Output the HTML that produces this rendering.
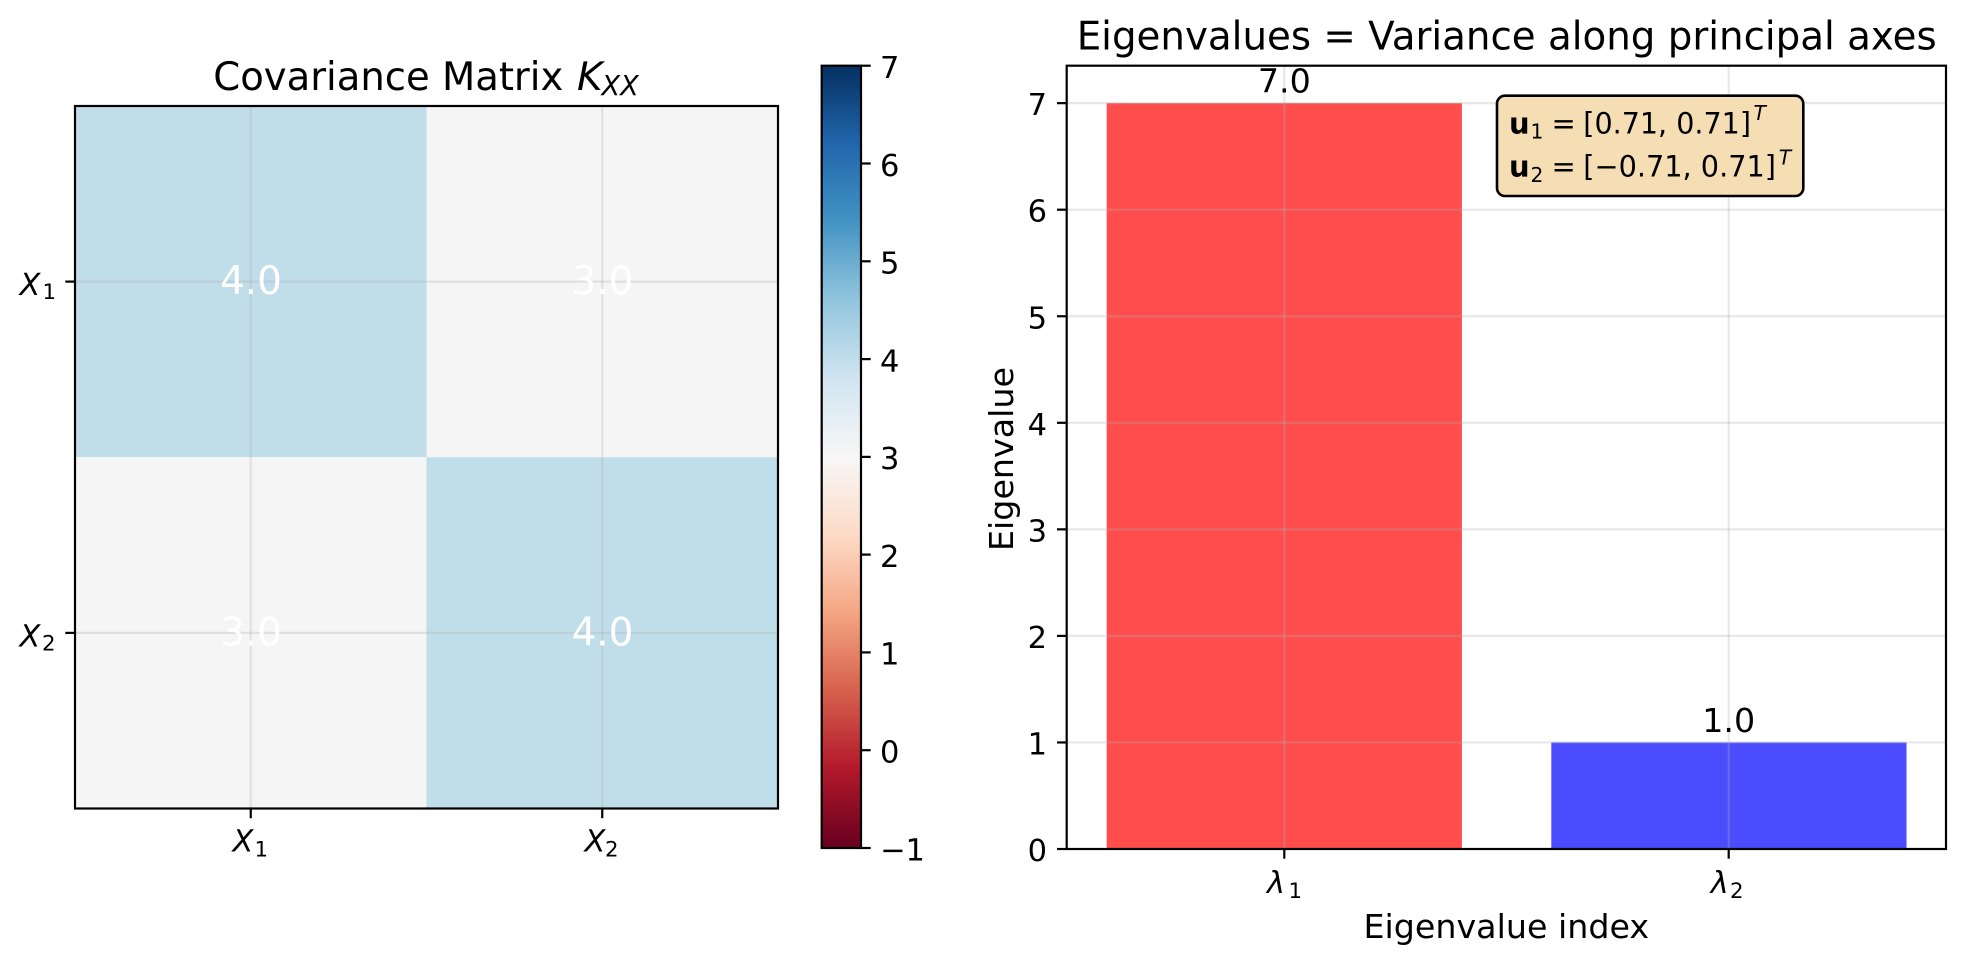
<!DOCTYPE html>
<html>
<head>
<meta charset="utf-8">
<style>
  html,body{margin:0;padding:0;background:#fff;}
  svg{display:block;}
  text{font-family:"DejaVu Sans","Liberation Sans",sans-serif;fill:#000;}
  .it{font-style:italic;}
</style>
</head>
<body>
<svg width="1966" height="965" viewBox="0 0 1966 965" xmlns="http://www.w3.org/2000/svg">
  <defs>
    <linearGradient id="rdbu" x1="0" y1="1" x2="0" y2="0">
      <stop offset="0" stop-color="#67001f"/>
      <stop offset="0.1" stop-color="#b2182b"/>
      <stop offset="0.2" stop-color="#d6604d"/>
      <stop offset="0.3" stop-color="#f4a582"/>
      <stop offset="0.4" stop-color="#fddbc7"/>
      <stop offset="0.5" stop-color="#f7f7f7"/>
      <stop offset="0.6" stop-color="#d1e5f0"/>
      <stop offset="0.7" stop-color="#92c5de"/>
      <stop offset="0.8" stop-color="#4393c3"/>
      <stop offset="0.9" stop-color="#2166ac"/>
      <stop offset="1" stop-color="#053061"/>
    </linearGradient>
  </defs>
  <rect x="0" y="0" width="1966" height="965" fill="#fff"/>

  <!-- ============ LEFT: heatmap ============ -->
  <rect x="75" y="106" width="351.5" height="351.25" fill="#c0ddea"/>
  <rect x="426.5" y="106" width="351.5" height="351.25" fill="#f5f5f5"/>
  <rect x="75" y="457.25" width="351.5" height="351.25" fill="#f5f5f5"/>
  <rect x="426.5" y="457.25" width="351.5" height="351.25" fill="#c0ddea"/>
  <!-- grid -->
  <g stroke="#b0b0b0" stroke-opacity="0.3" stroke-width="2.2">
    <line x1="250.75" y1="106" x2="250.75" y2="808.5"/>
    <line x1="602.25" y1="106" x2="602.25" y2="808.5"/>
    <line x1="75" y1="281.6" x2="778" y2="281.6"/>
    <line x1="75" y1="632.9" x2="778" y2="632.9"/>
  </g>
  <!-- cell text -->
  <g font-size="38.9" text-anchor="middle">
    <text x="251" y="294" style="fill:#fff">4.0</text>
    <text x="602.5" y="294" style="fill:#fff">3.0</text>
    <text x="251" y="645.5" style="fill:#fff">3.0</text>
    <text x="602.5" y="645.5" style="fill:#fff">4.0</text>
  </g>
  <rect x="75" y="106" width="703" height="702.5" fill="none" stroke="#000" stroke-width="2.2"/>
  <!-- ticks -->
  <g stroke="#000" stroke-width="2.2">
    <line x1="65.3" y1="281.6" x2="75" y2="281.6"/>
    <line x1="65.3" y1="632.9" x2="75" y2="632.9"/>
    <line x1="250.75" y1="808.5" x2="250.75" y2="818.2"/>
    <line x1="602.25" y1="808.5" x2="602.25" y2="818.2"/>
  </g>
  <!-- y tick labels -->
  <text class="it" x="19.5" y="295" font-size="30.5">X</text>
  <text x="42.5" y="299" font-size="21.3">1</text>
  <text class="it" x="19.5" y="646.3" font-size="30.5">X</text>
  <text x="42" y="650.3" font-size="21.3">2</text>
  <!-- x tick labels -->
  <text class="it" x="232.5" y="851.7" font-size="30.5">X</text>
  <text x="254.5" y="856.5" font-size="21.3">1</text>
  <text class="it" x="584.5" y="851.7" font-size="30.5">X</text>
  <text x="605" y="856.5" font-size="21.3">2</text>
  <!-- title -->
  <text x="213.3" y="90" font-size="38.9" textLength="350" lengthAdjust="spacingAndGlyphs">Covariance Matrix</text>
  <text class="it" x="577" y="90" font-size="38.9">K</text>
  <text class="it" x="601.5" y="95" font-size="27.2">XX</text>

  <!-- colorbar -->
  <rect x="821.7" y="65.7" width="39.3" height="782.3" fill="url(#rdbu)" stroke="#000" stroke-width="2.2"/>
  <g stroke="#000" stroke-width="2.2">
    <line x1="861" y1="65.7" x2="870.7" y2="65.7"/>
    <line x1="861" y1="163.5" x2="870.7" y2="163.5"/>
    <line x1="861" y1="261.3" x2="870.7" y2="261.3"/>
    <line x1="861" y1="359.1" x2="870.7" y2="359.1"/>
    <line x1="861" y1="456.9" x2="870.7" y2="456.9"/>
    <line x1="861" y1="554.6" x2="870.7" y2="554.6"/>
    <line x1="861" y1="652.4" x2="870.7" y2="652.4"/>
    <line x1="861" y1="750.2" x2="870.7" y2="750.2"/>
    <line x1="861" y1="848" x2="870.7" y2="848"/>
  </g>
  <g font-size="30.5">
    <text x="880" y="78">7</text>
    <text x="880" y="175.8">6</text>
    <text x="880" y="273.6">5</text>
    <text x="880" y="371.4">4</text>
    <text x="880" y="469.2">3</text>
    <text x="880" y="566.9">2</text>
    <text x="880" y="664.7">1</text>
    <text x="880" y="762.5">0</text>
    <text x="880" y="860.3">−1</text>
  </g>

  <!-- ============ RIGHT: bar chart ============ -->
  <rect x="1106.7" y="103.15" width="355.2" height="745.85" fill="#ff0000" fill-opacity="0.7"/>
  <rect x="1551.3" y="742.45" width="355.2" height="106.55" fill="#0000ff" fill-opacity="0.7"/>
  <g stroke="#b0b0b0" stroke-opacity="0.3" stroke-width="2.2">
    <line x1="1284.3" y1="65.7" x2="1284.3" y2="849"/>
    <line x1="1728.7" y1="65.7" x2="1728.7" y2="849"/>
    <line x1="1066.7" y1="742.45" x2="1946" y2="742.45"/>
    <line x1="1066.7" y1="635.9" x2="1946" y2="635.9"/>
    <line x1="1066.7" y1="529.35" x2="1946" y2="529.35"/>
    <line x1="1066.7" y1="422.8" x2="1946" y2="422.8"/>
    <line x1="1066.7" y1="316.25" x2="1946" y2="316.25"/>
    <line x1="1066.7" y1="209.7" x2="1946" y2="209.7"/>
    <line x1="1066.7" y1="103.15" x2="1946" y2="103.15"/>
  </g>
  <rect x="1066.7" y="65.7" width="879.3" height="783.3" fill="none" stroke="#000" stroke-width="2.2"/>
  <!-- ticks -->
  <g stroke="#000" stroke-width="2.2">
    <line x1="1057" y1="849" x2="1066.7" y2="849"/>
    <line x1="1057" y1="742.45" x2="1066.7" y2="742.45"/>
    <line x1="1057" y1="635.9" x2="1066.7" y2="635.9"/>
    <line x1="1057" y1="529.35" x2="1066.7" y2="529.35"/>
    <line x1="1057" y1="422.8" x2="1066.7" y2="422.8"/>
    <line x1="1057" y1="316.25" x2="1066.7" y2="316.25"/>
    <line x1="1057" y1="209.7" x2="1066.7" y2="209.7"/>
    <line x1="1057" y1="103.15" x2="1066.7" y2="103.15"/>
    <line x1="1284.3" y1="849" x2="1284.3" y2="858.7"/>
    <line x1="1728.7" y1="849" x2="1728.7" y2="858.7"/>
  </g>
  <g font-size="30.5" text-anchor="end">
    <text x="1047" y="861">0</text>
    <text x="1047" y="754.45">1</text>
    <text x="1047" y="647.9">2</text>
    <text x="1047" y="541.35">3</text>
    <text x="1047" y="434.8">4</text>
    <text x="1047" y="328.25">5</text>
    <text x="1047" y="221.7">6</text>
    <text x="1047" y="115.15">7</text>
  </g>
  <!-- x tick labels -->
  <text class="it" x="1267" y="893" font-size="30.5">λ</text>
  <text x="1288.5" y="898" font-size="21.3">1</text>
  <text class="it" x="1710.7" y="893" font-size="30.5">λ</text>
  <text x="1730" y="898" font-size="21.3">2</text>
  <!-- bar labels -->
  <text x="1284.3" y="92.6" font-size="33.3" text-anchor="middle">7.0</text>
  <text x="1728.7" y="732" font-size="33.3" text-anchor="middle">1.0</text>
  <!-- axis labels -->
  <text x="1506.3" y="938" font-size="33.3" text-anchor="middle">Eigenvalue index</text>
  <text transform="translate(1013,459) rotate(-90)" x="0" y="0" font-size="33.3" text-anchor="middle">Eigenvalue</text>
  <!-- title -->
  <text x="1076.7" y="49.5" font-size="38.9" textLength="860" lengthAdjust="spacingAndGlyphs">Eigenvalues = Variance along principal axes</text>

  <!-- eigenvector box -->
  <rect x="1497" y="95.7" width="306.3" height="100.3" rx="8" ry="8" fill="#f5deb3" stroke="#000" stroke-width="2.6"/>
  <text x="1509" y="133.3" font-size="29" font-weight="bold">u</text>
  <text x="1530.5" y="138.5" font-size="20.3">1</text>
  <text x="1551.5" y="133.3" font-size="29">=</text>
  <text x="1583.3" y="133.3" font-size="29" textLength="167.7" lengthAdjust="spacingAndGlyphs">[0.71, 0.71]</text>
  <text class="it" x="1753.5" y="120" font-size="20.3">T</text>
  <text x="1509" y="176.7" font-size="29" font-weight="bold">u</text>
  <text x="1530.5" y="182" font-size="20.3">2</text>
  <text x="1551.5" y="176.7" font-size="29">=</text>
  <text x="1583.3" y="176.7" font-size="29" textLength="192.7" lengthAdjust="spacingAndGlyphs">[−0.71, 0.71]</text>
  <text class="it" x="1778.8" y="164.5" font-size="20.3">T</text>
</svg>
</body>
</html>
